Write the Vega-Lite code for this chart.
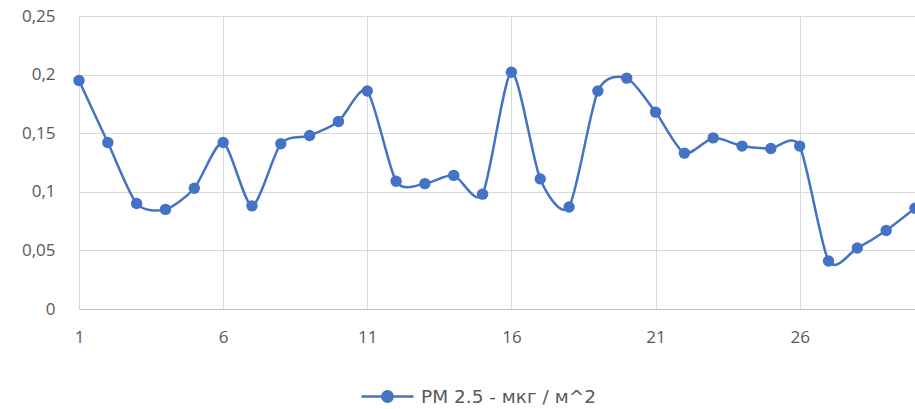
{
  "$schema": "https://vega.github.io/schema/vega-lite/v6.json",
  "width": 836,
  "height": 293,
  "autosize": {"type": "none"},
  "padding": {"left": 79, "top": 16, "right": 0, "bottom": 100},
  "background": "white",
  "config": {
    "locale": {"number": {"decimal": ",", "thousands": " ", "grouping": [3], "currency": ["", ""]}},
    "view": {"stroke": null},
    "font": "Open Sans"
  },
  "data": {
    "values": [
      {"day": 1, "pm": 0.195},
      {"day": 2, "pm": 0.142},
      {"day": 3, "pm": 0.090},
      {"day": 4, "pm": 0.085},
      {"day": 5, "pm": 0.103},
      {"day": 6, "pm": 0.142},
      {"day": 7, "pm": 0.088},
      {"day": 8, "pm": 0.141},
      {"day": 9, "pm": 0.148},
      {"day": 10, "pm": 0.160},
      {"day": 11, "pm": 0.186},
      {"day": 12, "pm": 0.109},
      {"day": 13, "pm": 0.107},
      {"day": 14, "pm": 0.114},
      {"day": 15, "pm": 0.098},
      {"day": 16, "pm": 0.202},
      {"day": 17, "pm": 0.111},
      {"day": 18, "pm": 0.087},
      {"day": 19, "pm": 0.186},
      {"day": 20, "pm": 0.197},
      {"day": 21, "pm": 0.168},
      {"day": 22, "pm": 0.133},
      {"day": 23, "pm": 0.146},
      {"day": 24, "pm": 0.139},
      {"day": 25, "pm": 0.137},
      {"day": 26, "pm": 0.139},
      {"day": 27, "pm": 0.041},
      {"day": 28, "pm": 0.052},
      {"day": 29, "pm": 0.067},
      {"day": 30, "pm": 0.086}
    ]
  },
  "mark": {
    "type": "line",
    "interpolate": "cardinal",
    "tension": 0.25,
    "strokeWidth": 2.5,
    "point": {"filled": true, "size": 130, "opacity": 1}
  },
  "encoding": {
    "x": {
      "field": "day",
      "type": "quantitative",
      "scale": {"domain": [1, 30], "nice": false, "zero": false},
      "axis": {
        "title": null,
        "values": [1, 6, 11, 16, 21, 26],
        "format": "d",
        "grid": true,
        "gridColor": "#d9d9d9",
        "gridWidth": 1,
        "ticks": false,
        "domainColor": "#bfbfbf",
        "domainWidth": 1.2,
        "labelFontSize": 17,
        "labelColor": "#595959",
        "labelPadding": 20,
        "labelFlush": false
      }
    },
    "y": {
      "field": "pm",
      "type": "quantitative",
      "scale": {"domain": [0, 0.25], "nice": false},
      "axis": {
        "title": null,
        "values": [0, 0.05, 0.1, 0.15, 0.2, 0.25],
        "format": ".2~f",
        "grid": true,
        "gridColor": "#d9d9d9",
        "gridWidth": 1,
        "ticks": false,
        "domain": false,
        "labelFontSize": 17,
        "labelColor": "#595959",
        "labelPadding": 24
      }
    },
    "color": {
      "datum": "PM 2.5 - мкг / м^2",
      "type": "nominal",
      "scale": {"range": ["#4472C4"]},
      "legend": {
        "title": null,
        "orient": "none",
        "legendX": 281,
        "legendY": 353,
        "symbolType": "M-1,0L1,0M-0.2,0A0.2,0.2,0,1,1,0.2,0A0.2,0.2,0,1,1,-0.2,0Z",
        "symbolSize": 2704,
        "symbolStrokeWidth": 2.5,
        "symbolFillColor": "#4472C4",
        "symbolStrokeColor": "#4472C4",
        "labelFont": "DejaVu Sans",
        "labelFontSize": 18.5,
        "labelLimit": 500,
        "labelColor": "#595959",
        "labelOffset": 6,
        "encode": {
          "symbols": {"update": {"fill": {"value": "#4472C4"}, "stroke": {"value": "#4472C4"}, "opacity": {"value": 1}}}
        }
      }
    }
  }
}
